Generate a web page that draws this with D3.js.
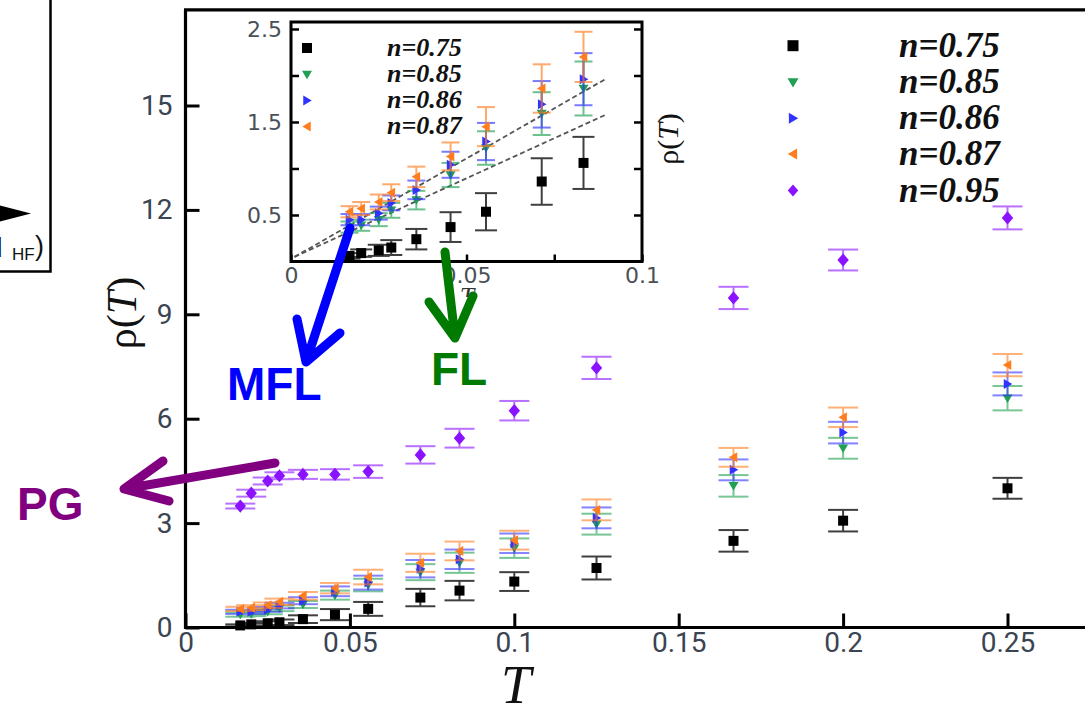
<!DOCTYPE html>
<html><head><meta charset="utf-8">
<script src="https://cdn.jsdelivr.net/npm/d3@7"></script>
<style>body{margin:0;background:#fff}svg{display:block}</style>
</head><body>
<svg id="c" width="1085" height="710"></svg>
<script>
// ---------------- data ----------------
const temps = [1/60, 1/50, 1/40, 1/35, 1/28, 1/22, 1/18, 1/14, 1/12, 1/10, 1/8, 1/6, 1/5, 1/4];
const seriesNames = ["n=0.75", "n=0.85", "n=0.86", "n=0.87", "n=0.95"];
const rho075 = [0.06, 0.09, 0.12, 0.15, 0.24, 0.37, 0.535, 0.86, 1.06, 1.32, 1.71, 2.49, 3.07, 4.0];
const err075 = [0.03, 0.04, 0.06, 0.08, 0.11, 0.16, 0.2, 0.25, 0.28, 0.27, 0.33, 0.31, 0.31, 0.30];
const rho085 = [0.37, 0.39, 0.45, 0.55, 0.66, 0.93, 1.22, 1.59, 1.86, 2.28, 2.97, 4.07, 5.15, 6.59];
const err085 = [0.06, 0.06, 0.07, 0.08, 0.1, 0.13, 0.18, 0.23, 0.29, 0.28, 0.3, 0.31, 0.3, 0.35];
const rho086 = [0.45, 0.45, 0.52, 0.63, 0.77, 1.04, 1.29, 1.69, 1.96, 2.42, 3.15, 4.53, 5.60, 7.0];
const err086 = [0.06, 0.06, 0.07, 0.08, 0.1, 0.14, 0.2, 0.25, 0.28, 0.28, 0.3, 0.3, 0.31, 0.33];
const rho087 = [0.535, 0.57, 0.64, 0.74, 0.91, 1.13, 1.45, 1.86, 2.20, 2.51, 3.38, 4.89, 6.04, 7.54];
const err087 = [0.06, 0.07, 0.08, 0.09, 0.11, 0.15, 0.21, 0.26, 0.27, 0.27, 0.3, 0.27, 0.28, 0.32];
const rho095 = [3.49, 3.86, 4.21, 4.36, 4.40, 4.40, 4.48, 4.96, 5.44, 6.23, 7.46, 9.47, 10.56, 11.77];
const err095 = [0.07, 0.1, 0.1, 0.1, 0.13, 0.15, 0.18, 0.25, 0.27, 0.28, 0.32, 0.32, 0.3, 0.33];
const insetCount = 9; // inset shows T <= 1/12, n = 0.75..0.87
const fitLineA = [[0.001, 0.05], [0.09, 1.97]];
const fitLineB = [[0.001, 0.05], [0.0895, 1.575]];

const xTicks = [0, 0.05, 0.1, 0.15, 0.2, 0.25];
const xTickLabels = ["0", "0.05", "0.1", "0.15", "0.2", "0.25"];
const yTicks = [0, 3, 6, 9, 12, 15];
const yTickLabels = ["0", "3", "6", "9", "12", "15"];
const ixTicks = [0, 0.05, 0.075, 0.1];
const ixTickLabels = ["0", "0.05", "", "0.1"];
const iyTicks = [0.5, 1, 1.5, 2, 2.5];
const iyTickLabels = ["0.5", "", "1.5", "", "2.5"];

// ---------------- styles ----------------
const colors = ["#000000", "#1fa052", "#3232ff", "#ff7d1e", "#8a12ff"];
const shapes = ["square", "down", "right", "left", "diamond"];
const rhos = [rho075, rho085, rho086, rho087, rho095];
const errs = [err075, err085, err086, err087, err095];

const svg = d3.select("#c");

function markerPath(type, s) {
  const h = s / 2;
  switch (type) {
    case "square": return `M${-h},${-h}H${h}V${h}H${-h}Z`;
    case "down": return `M${-h},${-h*0.75}L${h},${-h*0.75}L0,${h*0.95}Z`;
    case "right": return `M${-h*0.75},${-h}L${h*0.95},0L${-h*0.75},${h}Z`;
    case "left": return `M${h*0.75},${-h}L${-h*0.95},0L${h*0.75},${h}Z`;
    case "diamond": return `M0,${-h*1.1}L${h*0.95},0L0,${h*1.1}L${-h*0.95},0Z`;
  }
}

// ---------------- main plot ----------------
const x = d3.scaleLinear().domain([0, 0.28]).range([185.5, 185.5 + 0.28 * 3288]);
const y = d3.scaleLinear().domain([0, 17.75]).range([627.5, 627.5 - 17.75 * 34.8]);

const main = svg.append("g");

const xAxis = main.append("g").attr("transform", `translate(0,${y(0)})`)
  .call(d3.axisBottom(x).tickValues(xTicks).tickFormat((d, i) => xTickLabels[i]).tickSize(-14).tickPadding(5));
const yAxis = main.append("g").attr("transform", `translate(${x(0)},0)`)
  .call(d3.axisLeft(y).tickValues(yTicks).tickFormat((d, i) => yTickLabels[i]).tickSize(-14).tickPadding(13));
[xAxis, yAxis].forEach(a => {
  a.select(".domain").remove();
  a.selectAll(".tick line").attr("stroke", "#000").attr("stroke-width", 3);
  a.selectAll(".tick text").attr("font-family", "Roboto, sans-serif").attr("font-size", 28).attr("fill", "#3a4452");
});
// frame
main.append("line").attr("x1", x(0)).attr("x2", x(0)).attr("y1", y.range()[1]).attr("y2", y(0) + 1.5).attr("stroke", "#000").attr("stroke-width", 3.2);
main.append("line").attr("x1", x(0)).attr("x2", 1090).attr("y1", y(0)).attr("y2", y(0)).attr("stroke", "#000").attr("stroke-width", 3.2);
main.append("line").attr("x1", x(0) - 1.5).attr("x2", 1090).attr("y1", y.range()[1]).attr("y2", y.range()[1]).attr("stroke", "#000").attr("stroke-width", 3.2);

function drawSeries(g, xs, ys, k, n, capHalf, msize, op) {
  const data = d3.range(n).map(i => ({t: temps[i], v: rhos[k][i], e: errs[k][i]}));
  const eg = g.append("g").attr("stroke", colors[k]).attr("stroke-width", 2).attr("opacity", op);
  data.forEach(d => {
    eg.append("line").attr("x1", xs(d.t)).attr("x2", xs(d.t)).attr("y1", ys(d.v - d.e)).attr("y2", ys(d.v + d.e));
    eg.append("line").attr("x1", xs(d.t) - capHalf).attr("x2", xs(d.t) + capHalf).attr("y1", ys(d.v - d.e)).attr("y2", ys(d.v - d.e));
    eg.append("line").attr("x1", xs(d.t) - capHalf).attr("x2", xs(d.t) + capHalf).attr("y1", ys(d.v + d.e)).attr("y2", ys(d.v + d.e));
  });
  g.append("g").selectAll("path").data(data).join("path")
    .attr("d", markerPath(shapes[k], msize))
    .attr("transform", d => `translate(${xs(d.t)},${ys(d.v)})`)
    .attr("fill", colors[k]);
}
const mainData = main.append("g");
for (let k = 0; k < 5; k++) drawSeries(mainData, x, y, k, temps.length, 15, k === 4 ? 12 : 10, k === 0 ? 0.75 : 0.6);

// main legend
const legRowsY = [45.7, 82.3, 118.3, 154, 190.5];
const leg = main.append("g");
seriesNames.forEach((s, k) => {
  leg.append("path").attr("d", markerPath(shapes[k], 11)).attr("fill", colors[k])
    .attr("transform", `translate(793,${legRowsY[k]})`);
  leg.append("text").attr("x", 899).attr("y", legRowsY[k] + 11).text(s)
    .attr("font-family", "Liberation Serif, serif").attr("font-style", "italic").attr("font-weight", "bold")
    .attr("font-size", 35).attr("fill", "#111");
});

// axis titles
main.append("text").attr("transform", `translate(136,313) rotate(-90)`).attr("text-anchor", "middle")
  .attr("font-family", "Liberation Serif, serif").attr("font-size", 42).attr("fill", "#111")
  .html('ρ(<tspan font-style="italic">T</tspan>)');
main.append("text").attr("x", 516).attr("y", 703).attr("text-anchor", "middle")
  .attr("font-family", "Liberation Serif, serif").attr("font-style", "italic").attr("font-size", 54).attr("fill", "#111").text("T");

// ---------------- inset ----------------
const xi = d3.scaleLinear().domain([0, 0.1]).range([291, 642]);
const yi = d3.scaleLinear().domain([0, 2.575]).range([261.5, 22]);
const inset = svg.append("g");
inset.append("rect").attr("x", xi(0)).attr("y", yi.range()[1]).attr("width", xi(0.1) - xi(0)).attr("height", yi(0) - yi.range()[1]).attr("fill", "#fff");

const ixAxis = inset.append("g").attr("transform", `translate(0,${yi(0)})`)
  .call(d3.axisBottom(xi).tickValues(ixTicks).tickFormat((d, i) => ixTickLabels[i]).tickSize(-7).tickPadding(6));
const iyAxis = inset.append("g").attr("transform", `translate(${xi(0)},0)`)
  .call(d3.axisLeft(yi).tickValues(iyTicks).tickFormat((d, i) => iyTickLabels[i]).tickSize(-8).tickPadding(9));
const iyAxisR = inset.append("g").attr("transform", `translate(${xi(0.1)},0)`)
  .call(d3.axisRight(yi).tickValues(iyTicks).tickFormat(() => "").tickSize(-8));
[ixAxis, iyAxis, iyAxisR].forEach(a => {
  a.select(".domain").remove();
  a.selectAll(".tick line").attr("stroke", "#000").attr("stroke-width", 2.5);
  a.selectAll(".tick text").attr("font-family", "DejaVu Sans, sans-serif").attr("font-size", 22).attr("fill", "#4a5058");
});

// dashed fit lines
[fitLineA, fitLineB].forEach(L => {
  inset.append("path").attr("d", d3.line().x(d => xi(d[0])).y(d => yi(d[1]))(L))
    .attr("fill", "none").attr("stroke", "#555").attr("stroke-width", 1.8).attr("stroke-dasharray", "5,3");
});
const insetData = inset.append("g");
for (let k = 0; k < 4; k++) drawSeries(insetData, xi, yi, k, insetCount, k === 0 ? 11 : 9, 10, k === 0 ? 0.75 : 0.65);

inset.append("rect").attr("x", xi(0)).attr("y", yi.range()[1]).attr("width", xi(0.1) - xi(0)).attr("height", yi(0) - yi.range()[1])
  .attr("fill", "none").attr("stroke", "#000").attr("stroke-width", 3);

// inset legend
const iLegY = [48, 74.5, 100.5, 126.5];
seriesNames.slice(0, 4).forEach((s, k) => {
  inset.append("path").attr("d", markerPath(shapes[k], 10)).attr("fill", colors[k])
    .attr("transform", `translate(307,${iLegY[k]})`);
  inset.append("text").attr("x", 387).attr("y", iLegY[k] + 7.5).text(s)
    .attr("font-family", "Liberation Serif, serif").attr("font-style", "italic").attr("font-weight", "bold")
    .attr("font-size", 26).attr("fill", "#111");
});
// inset titles
svg.append("defs").append("clipPath").attr("id", "tclip").append("rect").attr("x", 440).attr("y", 282).attr("width", 60).attr("height", 15);
inset.append("text").attr("x", 467).attr("y", 305).attr("text-anchor", "middle").attr("clip-path", "url(#tclip)")
  .attr("font-family", "Liberation Serif, serif").attr("font-style", "italic").attr("font-size", 26).attr("fill", "#333").text("T");
inset.append("text").attr("transform", `translate(678,139) rotate(-90)`).attr("text-anchor", "middle")
  .attr("font-family", "Liberation Serif, serif").attr("font-size", 30).attr("fill", "#111")
  .html('ρ(<tspan font-style="italic">T</tspan>)');

// ---------------- left fragment ----------------
const frag = svg.append("g");
frag.append("rect").attr("x", -5).attr("y", -5).attr("width", 55.5).attr("height", 276.5).attr("fill", "none").attr("stroke", "#000").attr("stroke-width", 2.5);
frag.append("path").attr("d", "M-2,205L31,213.5L-2,222Z").attr("fill", "#000");
frag.append("text").attr("x", -13).attr("y", 257).attr("font-family", "Liberation Sans, sans-serif").attr("font-size", 28).attr("fill", "#111").text("d");
frag.append("text").attr("x", 12).attr("y", 260).attr("font-family", "Liberation Sans, sans-serif").attr("font-size", 17).attr("fill", "#111").text("HF");
frag.append("text").attr("x", 35).attr("y", 255).attr("font-family", "Liberation Sans, sans-serif").attr("font-size", 27).attr("fill", "#111").text(")");

// ---------------- annotations ----------------
const ann = svg.append("g").attr("fill", "none").attr("stroke-width", 9).attr("stroke-linecap", "round").attr("stroke-linejoin", "round");
ann.append("path").attr("d", "M350,228L306,362M297,319L306,362L340,333").attr("stroke", "#0000ff");
ann.append("path").attr("d", "M445,252L455,338M429,302L455,338L473,296").attr("stroke", "#007a00");
ann.append("path").attr("d", "M275,463L124,489M163,461L124,489L169,501").attr("stroke", "#800080");
const lab = svg.append("g").attr("font-family", "Liberation Sans, Arial, sans-serif").attr("font-weight", "bold").attr("font-size", 46);
lab.append("text").attr("x", 227).attr("y", 400).attr("fill", "#0000ff").text("MFL");
lab.append("text").attr("x", 431).attr("y", 385).attr("fill", "#007a00").text("FL");
lab.append("text").attr("x", 17).attr("y", 520).attr("fill", "#800080").text("PG");
</script>
</body></html>
